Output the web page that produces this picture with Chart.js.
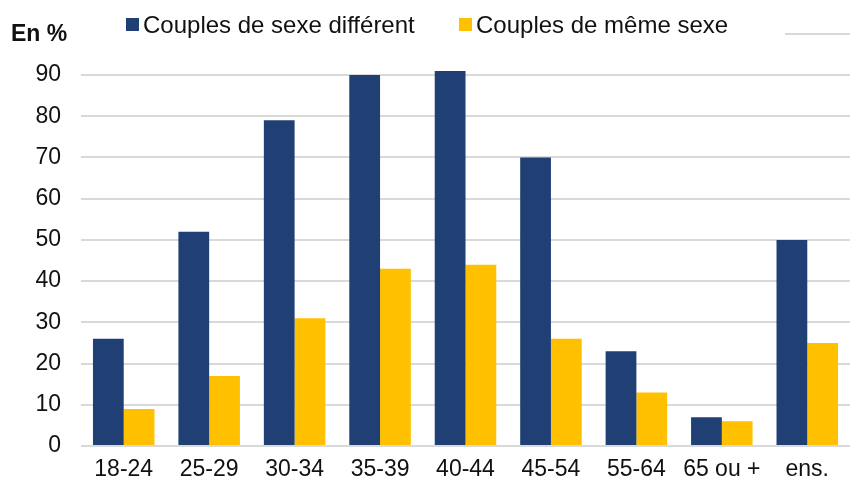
<!DOCTYPE html>
<html>
<head>
<meta charset="utf-8">
<script src="https://cdn.jsdelivr.net/npm/chart.js@4/dist/chart.umd.min.js"></script>
<style>
  html, body { margin: 0; padding: 0; background: #fff; }
  #wrap { width: 850px; height: 484px; }
</style>
</head>
<body>
<div id="wrap"><canvas id="chart"></canvas></div>
<script>
// Data
const categories = ['18-24', '25-29', '30-34', '35-39', '40-44', '45-54', '55-64', '65 ou +', 'ens.'];
const differentSex = [26, 52, 79, 90, 91, 70, 23, 7, 50];
const sameSex = [9, 17, 31, 43, 44, 26, 13, 6, 25];
const seriesLabels = ['Couples de sexe différent', 'Couples de même sexe'];

const NAVY = '#203f74';
const YELLOW = '#ffc000';
const FONT = '"Liberation Sans", Arial, sans-serif';

// Custom legend + "En %" label drawn on top (covers the 100 gridline like the original)
const topLegend = {
  id: 'topLegend',
  afterDraw(chart) {
    const ctx = chart.ctx;
    ctx.save();
    ctx.fillStyle = '#fff';
    ctx.fillRect(0, 8, 785, 44);

    ctx.font = 'bold 23px ' + FONT;
    ctx.fillStyle = '#111';
    ctx.textBaseline = 'middle';
    ctx.fillText('En %', 11, 35);

    ctx.font = '24px ' + FONT;
    const items = [
      { x: 126, color: NAVY, text: seriesLabels[0] },
      { x: 459, color: YELLOW, text: seriesLabels[1] }
    ];
    items.forEach(it => {
      ctx.fillStyle = it.color;
      ctx.fillRect(it.x, 18, 13, 13);
      ctx.fillStyle = '#111';
      ctx.fillText(it.text, it.x + 17, 26);
    });
    ctx.restore();
  }
};

new Chart(document.getElementById('chart'), {
  type: 'bar',
  data: {
    labels: categories,
    datasets: [
      { label: seriesLabels[0], data: differentSex, backgroundColor: NAVY, categoryPercentage: 0.72, barPercentage: 1.0 },
      { label: seriesLabels[1], data: sameSex, backgroundColor: YELLOW, categoryPercentage: 0.72, barPercentage: 1.0 }
    ]
  },
  options: {
    responsive: true,
    maintainAspectRatio: false,
    animation: false,
    layout: { padding: { top: 19, right: 0, left: 0, bottom: 0 } },
    plugins: {
      legend: { display: false },
      tooltip: { enabled: false }
    },
    scales: {
      x: {
        afterFit(scale) { scale.height = 38; },
        grid: { display: false, drawTicks: false },
        border: { display: false },
        ticks: { color: '#111', font: { family: FONT, size: 23 }, padding: 10 }
      },
      y: {
        min: 0,
        max: 100,
        afterFit(scale) { scale.width = 81; },
        grid: { color: '#d9d9d9', lineWidth: 2, drawTicks: false },
        border: { display: false },
        ticks: {
          stepSize: 10,
          color: '#111',
          padding: 20,
          font: { family: FONT, size: 23 },
          callback: v => (v === 100 ? '' : v)
        }
      }
    }
  },
  plugins: [topLegend]
});
</script>
</body>
</html>
